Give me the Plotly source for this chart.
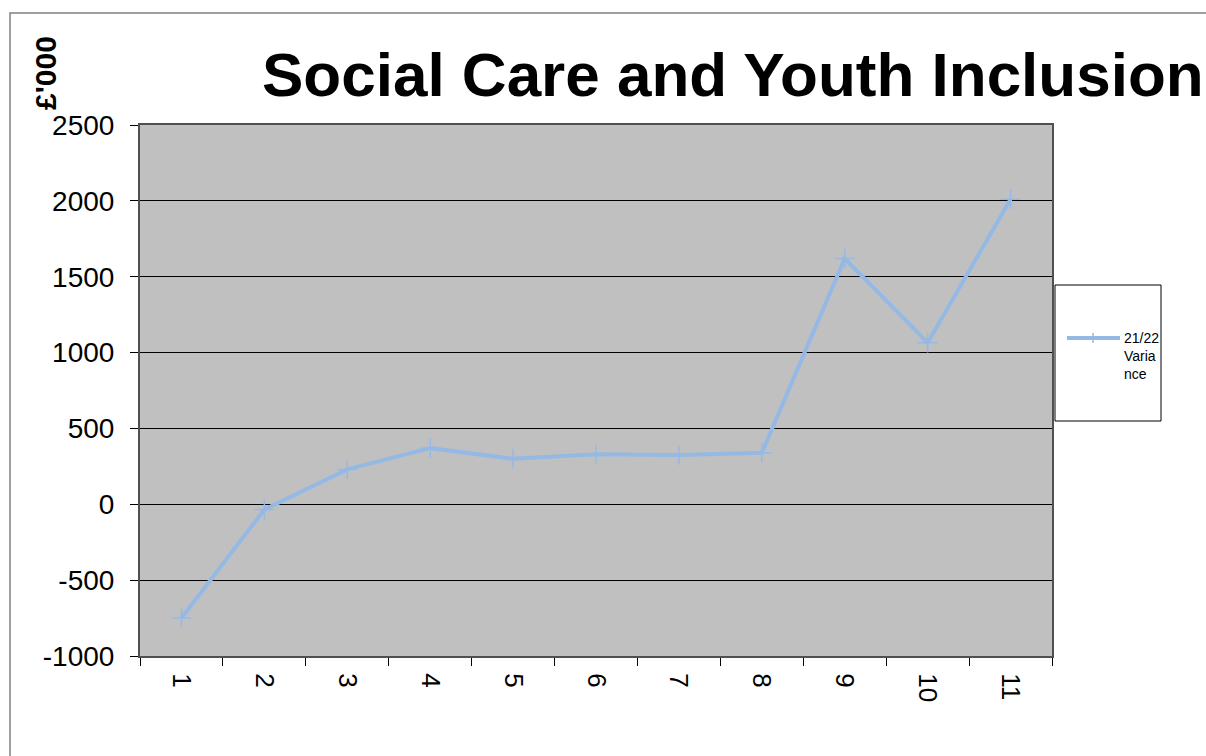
import plotly.graph_objects as go

# Monthly variance, £'000
periods = ["1", "2", "3", "4", "5", "6", "7", "8", "9", "10", "11"]
variance = [-750, -35, 230, 370, 300, 330, 325, 340, 1620, 1065, 2010]
series_name = "21/22<br>Varia<br>nce"
y_ticks = [-1000, -500, 0, 500, 1000, 1500, 2000, 2500]
y_tick_text = [str(v) for v in y_ticks]

W, H = 1206, 756
L, R, T, B = 140, 154, 125, 100
pw, ph = W - L - R, H - T - B


def px_x(x):
    return (x - L) / pw


def px_y(y):
    return (H - B - y) / ph


FONT = "Liberation Sans, Arial, sans-serif"
LINE = "#95B9E5"

fig = go.Figure()
fig.add_trace(go.Scatter(
    x=periods, y=variance, name=series_name, mode="lines+markers",
    line=dict(color=LINE, width=4),
    marker=dict(symbol="cross-thin", size=14, line=dict(color=LINE, width=1.5)),
    showlegend=False,
))

fig.update_layout(
    width=W, height=H,
    margin=dict(l=L, r=R, t=T, b=B),
    paper_bgcolor="white", plot_bgcolor="#C0C0C0",
    font=dict(family=FONT, color="black"),
    xaxis=dict(
        type="category", range=[-0.5, len(periods) - 0.5],
        tickangle=90, tickson="boundaries",
        ticks="outside", ticklen=8, tickcolor="black", ticklabelstandoff=10,
        tickfont=dict(size=26), showgrid=False,
        showline=True, linecolor="#505050", linewidth=2, mirror=True,
    ),
    yaxis=dict(
        range=[-1000, 2500], tickvals=y_ticks, ticktext=y_tick_text,
        ticks="outside", ticklen=8, tickcolor="black", ticklabelstandoff=10,
        tickfont=dict(size=28), showgrid=True, gridcolor="black", gridwidth=1,
        zeroline=False,
        showline=True, linecolor="#505050", linewidth=2, mirror=True,
    ),
    annotations=[
        dict(text="<b>Social Care and Youth Inclusion</b>", xref="paper", yref="paper",
             x=px_x(733), y=px_y(75), xanchor="center", yanchor="middle",
             showarrow=False, font=dict(size=62, family=FONT)),
        dict(text="<b>£'000</b>", xref="paper", yref="paper", textangle=-90,
             x=px_x(45), y=px_y(73), xanchor="center", yanchor="middle",
             showarrow=False, font=dict(size=30, family=FONT)),
        # legend label
        dict(text=series_name, xref="paper", yref="paper", align="left",
             x=px_x(1122), y=px_y(328), xanchor="left", yanchor="top",
             showarrow=False, font=dict(size=14, family=FONT)),
    ],
    shapes=[
        # outer chart frame
        dict(type="rect", xref="paper", yref="paper",
             x0=px_x(10), y0=px_y(H + 20), x1=px_x(W + 20), y1=px_y(13),
             line=dict(color="#808080", width=1.5), fillcolor="rgba(0,0,0,0)", layer="below"),
        # legend frame
        dict(type="rect", xref="paper", yref="paper",
             x0=px_x(1055), y0=px_y(421), x1=px_x(1161), y1=px_y(285),
             line=dict(color="black", width=1), fillcolor="white", layer="below"),
        # legend line sample
        dict(type="line", xref="paper", yref="paper",
             x0=px_x(1067), y0=px_y(338), x1=px_x(1120), y1=px_y(338),
             line=dict(color=LINE, width=4)),
        dict(type="line", xref="paper", yref="paper",
             x0=px_x(1093), y0=px_y(333), x1=px_x(1093), y1=px_y(343),
             line=dict(color=LINE, width=1.5)),
    ],
)

fig.write_html("out.html")
